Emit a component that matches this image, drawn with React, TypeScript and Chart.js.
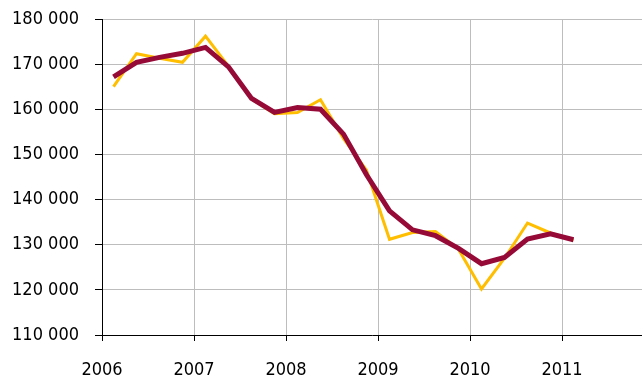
import React, { useEffect, useRef } from "react";
import { Chart, registerables } from "chart.js";

Chart.register(...registerables);

// Quarterly periods, 2006 Q1 – 2011 Q1
const quarters = [
  "2006Q1", "2006Q2", "2006Q3", "2006Q4",
  "2007Q1", "2007Q2", "2007Q3", "2007Q4",
  "2008Q1", "2008Q2", "2008Q3", "2008Q4",
  "2009Q1", "2009Q2", "2009Q3", "2009Q4",
  "2010Q1", "2010Q2", "2010Q3", "2010Q4",
  "2011Q1",
];

// Raw quarterly series
const rawValues = [
  165000, 172300, 171300, 170400,
  176200, 169500, 162300, 159000,
  159300, 162100, 153500, 146500,
  131200, 132700, 132900, 129000,
  120200, 127000, 134800, 132600,
  131000,
];

// Smoothed (trend) series
const trendValues = [
  167200, 170400, 171500, 172400,
  173700, 169400, 162400, 159300,
  160400, 160000, 154500, 145500,
  137500, 133300, 132000, 129200,
  125800, 127200, 131250, 132400,
  131100,
];

const yMin = 110000;
const yMax = 180000;
const yStep = 10000;
const firstYear = 2006;
const lastYear = 2011;

// Place each quarter at the middle of its span within the year
function quarterPos(q: string): number {
  const year = parseInt(q.slice(0, 4), 10);
  const n = parseInt(q.slice(5), 10);
  return year + (n - 0.5) / 4;
}

function fmt(v: number): string {
  return String(v).replace(/\B(?=(\d{3})+(?!\d))/g, " ");
}

const FONT = { family: "'DejaVu Sans Condensed', 'DejaVu Sans', sans-serif", size: 18 };

export default function App() {
  const ref = useRef<HTMLCanvasElement | null>(null);

  useEffect(() => {
    if (!ref.current) return;
    const chart = new Chart(ref.current, {
      type: "line",
      data: {
        datasets: [
          {
            label: "Trend",
            data: quarters.map((q, i) => ({ x: quarterPos(q), y: trendValues[i] })),
            borderColor: "#960A38",
            borderWidth: 5,
            pointRadius: 0,
            tension: 0,
            order: 0,
          },
          {
            label: "Quarterly",
            data: quarters.map((q, i) => ({ x: quarterPos(q), y: rawValues[i] })),
            borderColor: "#FFBE00",
            borderWidth: 3,
            pointRadius: 0,
            tension: 0,
            order: 1,
          },
        ],
      },
      options: {
        responsive: false,
        animation: false,
        layout: { padding: { top: 19, left: 0, right: 0, bottom: 0 } },
        plugins: {
          legend: { display: false },
          tooltip: { enabled: false },
        },
        scales: {
          x: {
            type: "linear",
            min: firstYear,
            max: firstYear + 540 / 92,
            ticks: {
              stepSize: 1,
              includeBounds: false,
              color: "#000",
              font: FONT,
              padding: 19,
              maxRotation: 0,
              callback: (v: any) => (v <= lastYear ? String(v) : ""),
            },
            grid: { color: "#bdbdbd", lineWidth: 1, tickLength: 6, tickColor: "#000" },
            border: { color: "#000", width: 1 },
            afterFit: (s: any) => {
              s.height = 55;
              s.paddingLeft = 0;
              s.paddingRight = 0;
            },
          },
          y: {
            min: yMin,
            max: yMax,
            ticks: {
              stepSize: yStep,
              color: "#000",
              font: FONT,
              padding: 16,
              callback: (v: any) => fmt(Number(v)),
            },
            grid: { color: "#bdbdbd", lineWidth: 1, tickLength: 7, tickColor: "#000" },
            border: { color: "#000", width: 1 },
            afterFit: (s: any) => {
              s.width = 102;
              s.paddingTop = 0;
              s.paddingBottom = 0;
            },
          },
        },
      },
    });
    return () => chart.destroy();
  }, []);

  return (
    <div style={{ position: "fixed", left: 0, top: 0, width: 642, height: 390, background: "#fff" }}>
      <canvas ref={ref} width={642} height={390} />
    </div>
  );
}
